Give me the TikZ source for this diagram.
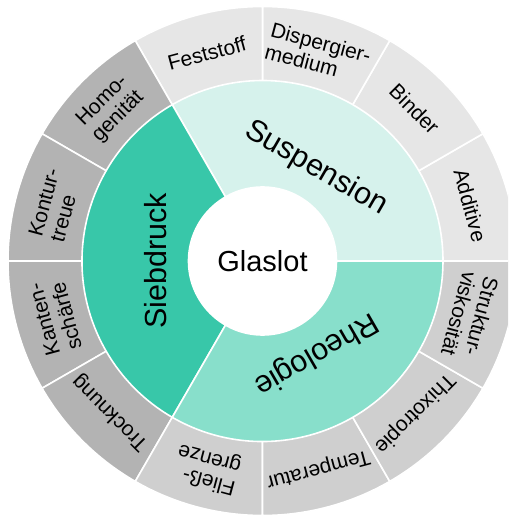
\documentclass[tikz,border=0pt]{standalone}
\usepackage{fontspec}
\setmainfont{Liberation Sans}
\definecolor{suspC}{HTML}{D6F2EC}
\definecolor{siebC}{HTML}{38C7A9}
\definecolor{rheoC}{HTML}{88DFCB}
\definecolor{grayS}{HTML}{E6E6E6}
\definecolor{grayR}{HTML}{CFCFCF}
\definecolor{grayB}{HTML}{B3B3B3}
\tikzset{
  seg/.style={draw=white, line width=1.6pt, line join=round},
  outlab/.style={font=\fontsize{21}{22.5}\selectfont, align=left, inner sep=0pt},
  midlab/.style={font=\fontsize{30.5}{33}\selectfont, inner sep=0pt},
  corelab/.style={font=\fontsize{29}{32}\selectfont, inner sep=0pt},
}
\newcommand\mysector[4]{%
  \path[seg, fill=#1] (0,0) -- (#2:#4) arc[start angle=#2, end angle=#3, radius=#4] -- cycle;}
\begin{document}
\begin{tikzpicture}[x=1pt,y=1pt]
\useasboundingbox (-262.5,-255) rectangle (245.5,261);
\clip (-262.5,-255) rectangle (245.5,261);
% outer ring
\mysector{grayS}{0}{30}{254.5}
\mysector{grayS}{30}{60}{254.5}
\mysector{grayS}{60}{90}{254.5}
\mysector{grayS}{90}{120}{254.5}
\mysector{grayB}{120}{150}{254.5}
\mysector{grayB}{150}{180}{254.5}
\mysector{grayB}{180}{210}{254.5}
\mysector{grayB}{210}{240}{254.5}
\mysector{grayR}{240}{270}{254.5}
\mysector{grayR}{270}{300}{254.5}
\mysector{grayR}{300}{330}{254.5}
\mysector{grayR}{330}{360}{254.5}
% middle ring
\mysector{suspC}{0}{120}{180.5}
\mysector{siebC}{120}{240}{180.5}
\mysector{rheoC}{240}{360}{180.5}
% core
\path[seg, fill=white] (0,0) circle[radius=74];
\node[corelab] (glaslot) at (0,0) {Glaslot};
% middle labels
\node[midlab, rotate=-30] (suspension) at (60:107) {Suspension};
\node[midlab, rotate=90] (siebdruck) at (180:107) {Siebdruck};
\node[midlab, rotate=210] (rheologie) at (300:107) {Rheologie};
% outer labels
\node[outlab, rotate=-75] (additive) at (15:215) {Additive};
\node[outlab, rotate=-45] (binder) at (45:215) {Binder};
\node[outlab, rotate=-15] (dispergier) at (75:215) {Dispergier-\\medium};
\node[outlab, rotate=15] (feststoff) at (105:215) {Feststoff};
\node[outlab, rotate=45] (homo) at (135:215) {Homo-\\genität};
\node[outlab, rotate=75] (kontur) at (165:215) {Kontur-\\treue};
\node[outlab, rotate=105] (kanten) at (195:215) {Kanten-\\schärfe};
\node[outlab, rotate=135] (trocknung) at (225:215) {Trocknung};
\node[outlab, rotate=165] (fliess) at (255:215) {Fließ-\\grenze};
\node[outlab, rotate=195] (temperatur) at (285:215) {Temperatur};
\node[outlab, rotate=225] (thixotropie) at (315:215) {Thixotropie};
\node[outlab, rotate=255] (struktur) at (345:215) {Struktur-\\viskosität};
\end{tikzpicture}
\end{document}
